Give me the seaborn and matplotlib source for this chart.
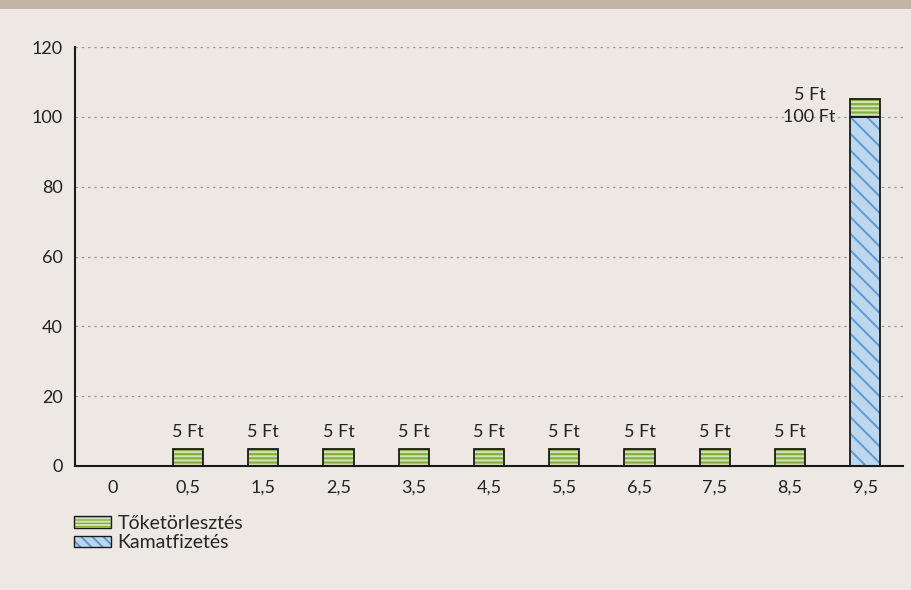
import matplotlib
matplotlib.use("Agg")
import matplotlib.pyplot as plt
import seaborn as sns
import pandas as pd
from matplotlib.patches import Patch, Rectangle
from matplotlib.legend_handler import HandlerTuple
from matplotlib.ticker import FixedLocator

categories = ["0", "0,5", "1,5", "2,5", "3,5", "4,5", "5,5", "6,5", "7,5", "8,5", "9,5"]
toketorlesztes = [0, 5, 5, 5, 5, 5, 5, 5, 5, 5, 5]
kamatfizetes = [0, 0, 0, 0, 0, 0, 0, 0, 0, 0, 100]
series_names = ["Tőketörlesztés", "Kamatfizetés"]
yticks = [0, 20, 40, 60, 80, 100, 120]

BG = "#EDE8E3"
GREEN_FACE = "#86AD45"
GREEN_HATCH = "#D2E6AE"
BLUE_FACE = "#BDD7EE"
BLUE_HATCH = "#5B9BD5"
OUTLINE = "#1a1a1a"
TXT = "#222222"

sns.set_theme(style="white")
plt.rcParams["font.family"] = ["Lato", "DejaVu Sans"]
plt.rcParams["hatch.linewidth"] = 1.4

df = pd.DataFrame({"cat": categories, "tok": toketorlesztes, "kam": kamatfizetes})

fig = plt.figure(figsize=(9.12, 5.90), dpi=100, facecolor=BG)
ax = fig.add_axes([75 / 912, 1 - 466 / 590, (903 - 75) / 912, (466 - 47) / 590])
ax.set_facecolor(BG)

# top band
fig.patches.append(Rectangle((0, 1 - 9 / 590), 1, 9 / 590, transform=fig.transFigure,
                             facecolor="#C4B4A6", edgecolor="none", zorder=0))

W = 0.4
# Kamatfizetés (bottom)
sns.barplot(data=df, x="cat", y="kam", ax=ax, width=W, color=BLUE_FACE, saturation=1,
            hatch="\\\\", edgecolor=BLUE_HATCH, linewidth=0, zorder=2)
sns.barplot(data=df, x="cat", y="kam", ax=ax, width=W, fill=False, color=OUTLINE,
            edgecolor=OUTLINE, linewidth=1.3, zorder=3)
# Tőketörlesztés stacked on top
sns.barplot(data=df, x="cat", y="tok", ax=ax, width=W, color=GREEN_FACE, saturation=1,
            bottom=kamatfizetes, hatch="----", edgecolor=GREEN_HATCH, linewidth=0, zorder=2)
sns.barplot(data=df, x="cat", y="tok", ax=ax, width=W, fill=False, color=OUTLINE,
            bottom=kamatfizetes, edgecolor=OUTLINE, linewidth=1.3, zorder=3)

# labels
for i, (t, k) in enumerate(zip(toketorlesztes, kamatfizetes)):
    if t > 0 and k == 0:
        ax.annotate(f"{t} Ft", (i, t + k), xytext=(0, 6), textcoords="offset points",
                    ha="center", va="bottom", fontsize=13, color=TXT)
    elif k > 0:
        ax.annotate(f"{t} Ft", (i - W / 2, k + t), xytext=(-18, 3), textcoords="offset points",
                    ha="right", va="center", fontsize=13, color=TXT)
        ax.annotate(f"{k} Ft", (i - W / 2, k), xytext=(-11, 0), textcoords="offset points",
                    ha="right", va="center", fontsize=13, color=TXT)

ax.set_ylim(0, 120)
ax.set_xlim(-0.5, len(categories) - 0.5)
ax.set_yticks(yticks)
ax.set_yticklabels([str(v) for v in yticks], fontsize=13, color=TXT)
ax.set_xticks(range(len(categories)))
ax.set_xticklabels(categories, fontsize=13, color=TXT)
ax.xaxis.set_minor_locator(FixedLocator([i - 0.5 for i in range(len(categories) + 1)]))
ax.tick_params(axis="x", which="major", length=0, pad=10)
ax.tick_params(axis="x", which="minor", length=5, width=1.3, color=OUTLINE, direction="out")
ax.tick_params(axis="y", which="major", length=5, width=1.3, color=OUTLINE, direction="out", pad=4)
ax.set_xlabel("")
ax.set_ylabel("")

ax.yaxis.grid(True, linestyle=(0, (2, 3)), color="#9a9a9a", linewidth=0.9, zorder=0)
ax.set_axisbelow(True)
for s in ["top", "right"]:
    ax.spines[s].set_visible(False)
for s in ["left", "bottom"]:
    ax.spines[s].set_color(OUTLINE)
    ax.spines[s].set_linewidth(1.5)

handles = [
    (Patch(facecolor=GREEN_FACE, hatch="-----", edgecolor=GREEN_HATCH, linewidth=0),
     Patch(fill=False, edgecolor=OUTLINE, linewidth=1.0)),
    (Patch(facecolor=BLUE_FACE, hatch="\\\\\\", edgecolor=BLUE_HATCH, linewidth=0),
     Patch(fill=False, edgecolor=OUTLINE, linewidth=1.0)),
]
fig.legend(handles, series_names, handler_map={tuple: HandlerTuple(ndivide=1, pad=0)},
           loc="upper left", bbox_to_anchor=(70 / 912, 1 - 511 / 590), frameon=False,
           fontsize=14, handlelength=1.9, handleheight=0.5, labelspacing=0.12,
           handletextpad=0.35, borderaxespad=0, borderpad=0.2)

fig.savefig("out.png", dpi=100, facecolor=BG)
